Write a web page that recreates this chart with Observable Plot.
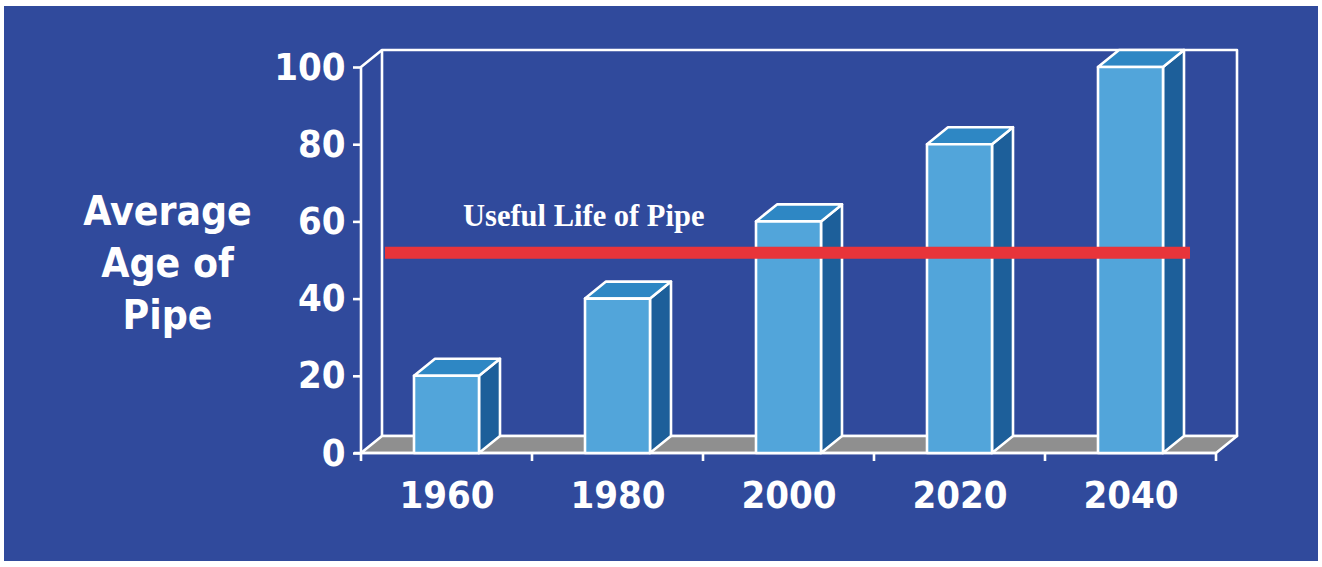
<!DOCTYPE html>
<html><head><meta charset="utf-8">
<script src="https://cdn.jsdelivr.net/npm/d3@7"></script>
<script src="https://cdn.jsdelivr.net/npm/@observablehq/plot@0.6"></script>
<style>
html,body{margin:0;padding:0;background:#fff;}
#wrap{position:relative;width:1322px;height:567px;overflow:hidden;}
#panel{position:absolute;left:4px;top:6px;width:1314px;height:555px;background:#304a9c;}
#chart{position:absolute;left:0;top:0;}
</style></head><body>
<div id="wrap"><div id="panel"></div><div id="chart"></div></div>
<script>
// ---- data ----
const years = ["1960", "1980", "2000", "2020", "2040"];
const ages = [20, 40, 60, 80, 100];
const usefulLife = [52];
const yTicks = [0, 20, 40, 60, 80, 100];
const usefulLabel = ["Useful Life of Pipe"];
const yTitle = ["Average", "Age of", "Pipe"];

// ---- style ----
const DX = 21, DY = -17, BAR_INSET = 53, SW = 2.6;
const C = {front: "#52a5da", side: "#1d5f9a", top: "#2e87c4", floor: "#8f8f8f", red: "#e8343a"};

const data = years.map((y, i) => ({year: y, age: ages[i]}));

function step(x) { return x(years[1]) - x(years[0]); }

// back wall, side wall, floor and band-boundary ticks
function scaffold(index, scales) {
  const {x, y} = scales;
  const w = step(x);
  const x0 = x(years[0]), x1 = x(years[years.length - 1]) + w;
  const yb = y(0), yt = y(yTicks[yTicks.length - 1]);
  const g = d3.create("svg:g").attr("fill", "none").attr("stroke", "white")
    .attr("stroke-width", SW).attr("stroke-linejoin", "round");
  g.append("rect").attr("x", x0 + DX).attr("y", yt + DY).attr("width", x1 - x0).attr("height", yb - yt);
  g.append("path").attr("d", `M${x0},${yb}V${yt}L${x0 + DX},${yt + DY}`);
  g.append("path").attr("fill", C.floor).attr("d", `M${x0},${yb}H${x1}L${x1 + DX},${yb + DY}H${x0 + DX}Z`);
  const bounds = years.map(v => x(v)).concat([x1]);
  for (const bx of bounds) g.append("path").attr("d", `M${bx},${yb}v8`);
  g.append("path").attr("d", `M${x0 - 7},${yb}H${x1}`);
  return g.node();
}

function bars3d(index, scales) {
  const {x, y} = scales;
  const w = step(x);
  const g = d3.create("svg:g").attr("stroke", "white").attr("stroke-width", SW).attr("stroke-linejoin", "round");
  for (const d of data) {
    const xl = x(d.year) + BAR_INSET, xr = x(d.year) + w - BAR_INSET;
    const yt = y(d.age), yb = y(0);
    g.append("path").attr("fill", C.side).attr("d", `M${xr},${yt}L${xr + DX},${yt + DY}V${yb + DY}L${xr},${yb}Z`);
    g.append("path").attr("fill", C.top).attr("d", `M${xl},${yt}L${xl + DX},${yt + DY}H${xr + DX}L${xr},${yt}Z`);
    g.append("rect").attr("fill", C.front).attr("x", xl).attr("y", yt).attr("width", xr - xl).attr("height", yb - yt);
  }
  return g.node();
}

const chart = Plot.plot({
  width: 1322, height: 567,
  marginLeft: 360, marginRight: 105, marginTop: 67, marginBottom: 114,
  style: {background: "transparent", color: "white", fontFamily: "'DejaVu Sans Condensed', 'DejaVu Sans', sans-serif", fontWeight: "bold", fontSize: "38px", overflow: "visible"},
  x: {type: "band", domain: years, padding: 0, label: null},
  y: {domain: [0, 100], label: null},
  marks: [
    scaffold,
    bars3d,
    Plot.ruleY(usefulLife, {stroke: C.red, strokeWidth: 12, insetLeft: 25, insetRight: 27}),
    Plot.text(usefulLabel, {x: () => years[0], y: () => usefulLife[0], text: d => d, textAnchor: "start", lineAnchor: "bottom", dx: 16, dy: -27, fontFamily: "'Liberation Serif', serif", fontSize: 30.5, fontWeight: "bold", fill: "white"}),
    Plot.text([yTitle.join("\n")], {frameAnchor: "left", dx: -193, textAnchor: "middle", lineAnchor: "middle", lineHeight: 1.28, fontSize: 40.5, fill: "white", text: d => d}),
    Plot.axisY({ticks: yTicks, tickSize: 7, tickPadding: 8, strokeWidth: SW, stroke: "white", label: null}),
    Plot.axisX({tickSize: 0, tickPadding: 28, label: null})
  ]
});
document.getElementById("chart").appendChild(chart);
</script>
</body></html>
